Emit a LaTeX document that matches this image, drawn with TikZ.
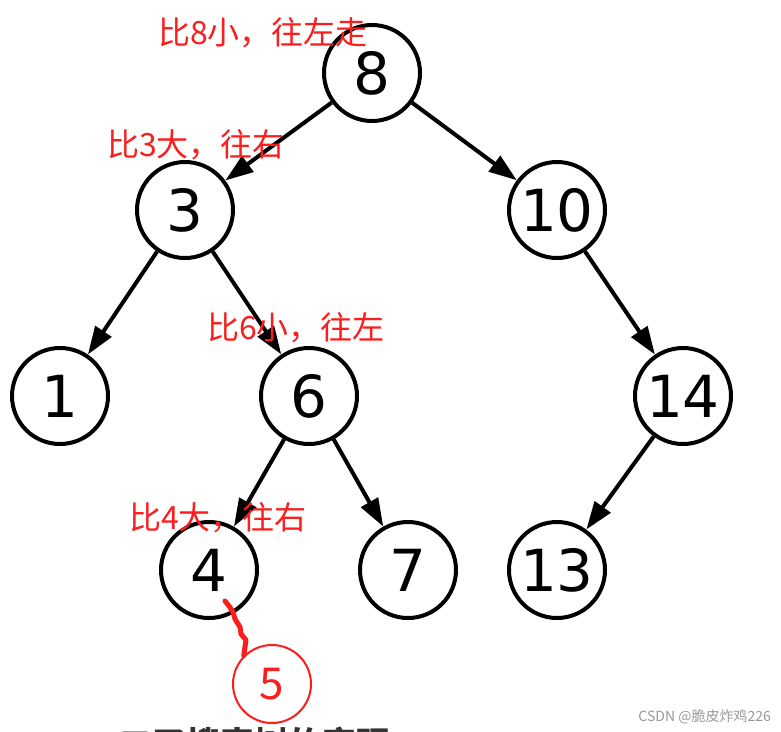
\documentclass[tikz,border=0pt]{standalone}
\usepackage{fontspec}
\setmainfont{DejaVu Sans}
\newfontfamily\cjk{Noto Sans CJK SC}
\usetikzlibrary{arrows.meta}
\definecolor{notered}{RGB}{250,30,30}
\begin{document}
\begin{tikzpicture}[x=1pt,y=-1pt,
  tnode/.style={circle,draw=black,line width=4pt,minimum size=96pt,inner sep=0pt,
     font=\fontsize{58}{58}\selectfont},
  edge/.style={line width=4pt,-{Triangle[length=28pt,width=19pt]}},
  note/.style={text=notered,font=\cjk\fontsize{32}{32}\selectfont,inner sep=0pt,anchor=west}]
\useasboundingbox[fill=white] (0,0) rectangle (781,731);
\begin{scope}
\clip (0,0) rectangle (781,731);
\node[anchor=north west,inner sep=0pt,text=black!80,font=\cjk\bfseries\fontsize{34}{34}\selectfont] (cut) at (118,727) {二叉搜索树的实现};
\end{scope}
\node[tnode] (n8) at (372,73) {8};
\node[tnode] (n3) at (185,210) {3};
\node[tnode] (n10) at (557,210) {10};
\node[tnode] (n1) at (60,396) {1};
\node[tnode] (n6) at (309,396) {6};
\node[tnode] (n14) at (683,396) {14};
\node[tnode] (n4) at (209,570) {4};
\node[tnode] (n7) at (408,570) {7};
\node[tnode] (n13) at (557,570) {13};
\draw[edge] (n8) -- (n3);
\draw[edge] (n8) -- (n10);
\draw[edge] (n3) -- (n1);
\draw[edge] (n3) -- (n6);
\draw[edge] (n10) -- (n14);
\draw[edge] (n6) -- (n4);
\draw[edge] (n6) -- (n7);
\draw[edge] (n14) -- (n13);
\node[note] (l8) at (158,33) {比8小，往左走};
\node[note] (l3) at (107,145) {比3大，往右};
\node[note] (l6) at (207,328) {比6小，往左};
\node[note] (l4) at (129,518) {比4大，往右};
\node[circle,draw=notered,line width=2pt,minimum size=78pt,inner sep=0pt,text=notered,
  font=\cjk\fontsize{44}{44}\selectfont] (n5) at (272,684) {\raisebox{-4pt}{5}};
\coordinate (s0) at (225,601);
\draw[notered,line width=5pt,line cap=round,line join=round] (s0) -- (229,606) -- (233,612) -- (235,619) -- (240,627) -- (241,634) -- (246,640) -- (n5.north west);
\node[anchor=east,inner sep=0pt,text=black!40,font=\cjk\fontsize{14}{14}\selectfont] (wm) at (771,717) {CSDN @脆皮炸鸡226};
\end{tikzpicture}
\end{document}
